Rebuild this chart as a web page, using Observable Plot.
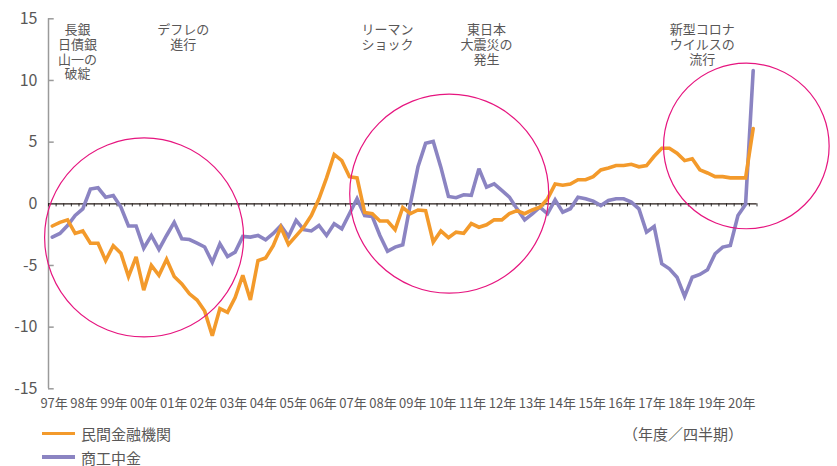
<!DOCTYPE html>
<html>
<head>
<meta charset="utf-8">
<script src="https://cdn.jsdelivr.net/npm/d3@7"></script>
<script src="https://cdn.jsdelivr.net/npm/@observablehq/plot@0.6"></script>
<style>
  html, body { margin: 0; padding: 0; background: #fff; }
  body { width: 837px; height: 466px; overflow: hidden; font-family: "Noto Sans CJK JP", "Noto Sans", sans-serif; color: #595757; }
  #wrap { position: relative; width: 837px; }
  .legend { position: relative; padding-top: 4px; }
  .row { display: flex; align-items: center; height: 23.4px; font-size: 15px; }
  .sw { width: 33px; height: 3.5px; margin-left: 42px; margin-right: 6px; }
  .unit { position: absolute; left: 683px; top: 4px; height: 23.4px; line-height: 23.4px; transform: translateX(-50%); font-size: 15px; }
</style>
</head>
<body>
<div id="wrap">
  <div id="chart"></div>
  <div class="legend">
    <div class="row"><div class="sw" style="background:#f39a2b"></div>民間金融機関</div>
    <div class="row"><div class="sw" style="background:#8b84c2"></div>商工中金</div>
    <div class="unit">（年度／四半期）</div>
  </div>
</div>
<script>
// Quarterly series, FY1997 Q1 ... FY2020 Q1 (index 0..92)
const private_banks = [
  -1.8, -1.5, -1.3, -2.4, -2.2, -3.2, -3.2, -4.6, -3.4, -4.0,
  -5.9, -4.3, -7.0, -5.0, -5.8, -4.5, -5.9, -6.5, -7.3, -7.8,
  -8.7, -10.7, -8.5, -8.8, -7.6, -5.8, -7.8, -4.6, -4.4, -3.4,
  -1.9, -3.3, -2.6, -1.9, -0.95, 0.4, 2.1, 4.0, 3.5, 2.2,
  2.1, -0.7, -0.8, -1.4, -1.4, -2.1, -0.3, -0.8, -0.5, -0.55,
  -3.1, -2.2, -2.75, -2.3, -2.4, -1.6, -1.9, -1.7, -1.3, -1.3,
  -0.8, -0.55, -0.8, -0.5, -0.27, 0.4, 1.6, 1.5, 1.6, 1.95,
  1.95, 2.2, 2.75, 2.9, 3.1, 3.1, 3.2, 3.0, 3.1, 3.85,
  4.5, 4.5, 4.1, 3.5, 3.65, 2.75, 2.5, 2.2, 2.2, 2.1,
  2.1, 2.1, 6.1
];
const shoko_chukin = [
  -2.7, -2.4, -1.76, -0.95, -0.41, 1.2, 1.3, 0.54, 0.68, -0.27,
  -1.8, -1.8, -3.6, -2.57, -3.7, -2.57, -1.5, -2.84, -2.9, -3.19,
  -3.5, -4.75, -3.24, -4.27, -3.92, -2.65, -2.7, -2.57, -2.92, -2.4,
  -1.76, -2.65, -1.35, -2.1, -2.2, -1.76, -2.57, -1.62, -2.03, -0.81,
  0.41, -0.95, -1.03, -2.57, -3.85, -3.51, -3.32, 0.0, 3.0, 4.9,
  5.05, 2.97, 0.59, 0.49, 0.73, 0.68, 2.84, 1.35, 1.62, 1.08,
  0.54, -0.41, -1.3, -0.81, -0.27, -0.81, 0.32, -0.68, -0.4, 0.54,
  0.41, 0.22, -0.14, 0.27, 0.41, 0.41, 0.14, -0.41, -2.3, -1.84,
  -4.86, -5.27, -5.95, -7.5, -5.95, -5.73, -5.35, -4.05, -3.51, -3.38,
  -0.95, -0.05, 10.8
];
const seriesNames = ["民間金融機関", "商工中金"];
const seriesColors = ["#f39a2b", "#8b84c2"];
const yearLabels = ["97年","98年","99年","00年","01年","02年","03年","04年","05年","06年","07年","08年",
  "09年","10年","11年","12年","13年","14年","15年","16年","17年","18年","19年","20年"];
const yTicks = [-15, -10, -5, 0, 5, 10, 15];

// Annotations (x = quarter index of the event)
const noteTexts = ["長銀\n日債銀\n山一の\n破綻", "デフレの\n進行", "リーマン\nショック", "東日本\n大震災の\n発生", "新型コロナ\nウイルスの\n流行"];
const noteIdx = [3.3, 17.2, 44.0, 57.0, 85.3];
// Highlight circles: centre (quarter index, value) and radius in px
const circleIdx = [12.05, 52.1, 91.1];
const circleVal = [-2.73, 0.82, 4.69];
const circleR = [99.5, 99.5, 82.8];

const rows = [];
[private_banks, shoko_chukin].forEach((arr, s) => arr.forEach((v, i) => rows.push({i, v, s: seriesNames[s]})));
const notes = noteTexts.map((t, k) => ({t, x: noteIdx[k]}));
const circles = circleIdx.map((x, k) => ({x, y: circleVal[k], r: circleR[k]}));

// year labels are spread evenly along the axis
const nQ = private_banks.length;
const labelStep = (nQ - 2) / 4 / (yearLabels.length - 1) * 4 * 1.0;
const labelPos = yearLabels.map((_, k) => 0.235 + k * 3.924);
const labelMap = new Map(labelPos.map((p, k) => [p, yearLabels[k]]));
const quarterEdges = d3.range(0, nQ + 1).map(k => k - 0.5);

const font = '"Noto Sans CJK JP", "Noto Sans", sans-serif';
const chart = Plot.plot({
  width: 837,
  height: 418,
  marginLeft: 48,
  marginRight: 80.5,
  marginTop: 18.3,
  marginBottom: 29.7,
  x: {domain: [-0.5, nQ - 0.5]},
  y: {domain: [-15, 15]},
  style: {fontFamily: font, color: "#595757", background: "#fff", overflow: "visible"},
  marks: [
    Plot.axisY({ticks: yTicks, tickSize: 0, tickPadding: 11, fontSize: 16, tickFormat: d => String(d), label: null}),
    Plot.axisX({ticks: labelPos, tickSize: 0, tickPadding: 10, fontSize: 13, tickFormat: d => labelMap.get(d), label: null}),
    Plot.ruleX([-0.5], {stroke: "#9a9a9a", strokeWidth: 1.5}),
    Plot.ruleY(yTicks.filter(d => d !== 0), {x1: -0.5, x2: 0.25, stroke: "#9a9a9a", strokeWidth: 1.5}),
    Plot.ruleX(quarterEdges, {y1: 0, y2: -0.25, stroke: "#333", strokeWidth: 1}),
    Plot.ruleY([0], {stroke: "#231815", strokeWidth: 1.3}),
    Plot.line(rows.filter(d => d.s === seriesNames[1]), {x: "i", y: "v", stroke: seriesColors[1], strokeWidth: 3.6, strokeLinejoin: "miter", strokeMiterlimit: 3}),
    Plot.line(rows.filter(d => d.s === seriesNames[0]), {x: "i", y: "v", stroke: seriesColors[0], strokeWidth: 3.6, strokeLinejoin: "miter", strokeMiterlimit: 3}),
    Plot.dot(circles, {x: "x", y: "y", r: "r", stroke: "#e6157f", strokeWidth: 1.2, fill: "none"}),
    Plot.text(notes, {x: "x", frameAnchor: "top", text: "t", lineAnchor: "top", dy: 5, fontSize: 13, lineHeight: 1.13, fill: "#595757", textAnchor: "middle"})
  ],
  r: {type: "identity"}
});
document.getElementById("chart").appendChild(chart);
</script>
</body>
</html>
